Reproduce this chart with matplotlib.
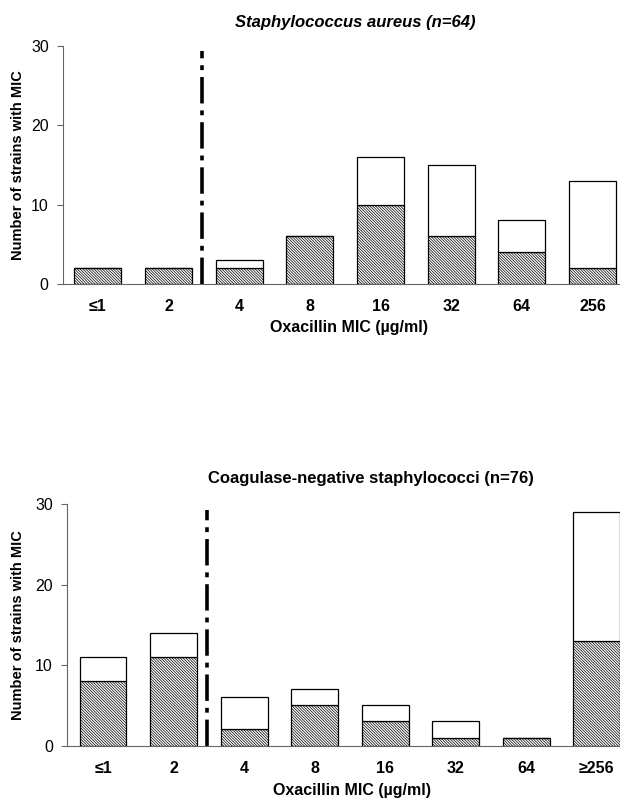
import matplotlib
matplotlib.use("Agg")
import matplotlib.pyplot as plt
import numpy as np

plt.rcParams['font.family'] = ['Liberation Sans', 'DejaVu Sans']
plt.rcParams['hatch.linewidth'] = 0.5
plt.rcParams['lines.scale_dashes'] = False

# Staphylococcus aureus
SA_LABELS = ['≤1', '2', '4', '8', '16', '32', '64', '256']
SA_HATCHED = [2, 2, 2, 6, 10, 6, 4, 2]
SA_TOTAL = [2, 2, 3, 6, 16, 15, 8, 13]

# coagulase-negative staphylococci
CNS_LABELS = ['≤1', '2', '4', '8', '16', '32', '64', '≥256']
CNS_HATCHED = [8, 11, 2, 5, 3, 1, 1, 13]
CNS_TOTAL = [11, 14, 6, 7, 5, 3, 1, 29]

Y_TICKS = [0, 10, 20, 30]
BREAKPOINT = 1.48


def draw_panel(ax, labels, hatched, total, xlim):
    # draws one stacked bar panel with the dash-dot breakpoint line
    x = np.arange(len(labels))
    hatched = np.array(hatched)
    white = np.array(total) - hatched
    ax.bar(x, hatched, width=0.665, color='white', edgecolor='black',
           linewidth=0.9, hatch='\\' * 12)
    ax.bar(x, white, width=0.665, bottom=hatched, color='white',
           edgecolor='black', linewidth=0.9)
    ax.plot([BREAKPOINT, BREAKPOINT], [0, 29.3], color='black', linewidth=2.6,
            linestyle=(0, (19, 5, 3.5, 5)))
    ax.set_xlim(xlim)
    ax.set_ylim(0, 30)
    ax.set_xticks(x)
    ax.set_xticklabels(labels, fontsize=11.5, fontweight='bold')
    ax.set_yticks(Y_TICKS)
    ax.tick_params(axis='x', length=0, pad=11)
    ax.tick_params(axis='y', length=4, width=0.8, color='#666666', pad=6, labelsize=11.5)
    ax.spines['top'].set_visible(False)
    ax.spines['right'].set_visible(False)
    ax.spines['left'].set_color('#666666')
    ax.spines['bottom'].set_color('#666666')
    ax.set_ylabel('Number of strains with MIC', fontsize=10.5, fontweight='bold')


def main():
    fig = plt.figure(figsize=(6.2, 8), dpi=100)

    ax1 = fig.add_axes([0.101, 0.645, 0.899, 0.298])
    draw_panel(ax1, SA_LABELS, SA_HATCHED, SA_TOTAL, (-0.5, 7.39))
    ax1.yaxis.set_label_coords(-0.068, 0.5)

    ax2 = fig.add_axes([0.1076, 0.068, 0.8924, 0.302])
    draw_panel(ax2, CNS_LABELS, CNS_HATCHED, CNS_TOTAL, (-0.515, 7.33))
    ax2.yaxis.set_label_coords(-0.075, 0.5)

    fig.text(355 / 620, 1 - 22 / 800, 'Staphylococcus aureus (n=64)', ha='center', va='center',
             fontsize=12, fontweight='bold', style='italic')
    fig.text(371 / 620, 1 - 478 / 800, 'Coagulase-negative staphylococci (n=76)', ha='center',
             va='center', fontsize=12, fontweight='bold')
    fig.text(349 / 620, 1 - 328 / 800, 'Oxacillin MIC (µg/ml)', ha='center', va='center',
             fontsize=11.5, fontweight='bold')
    fig.text(352 / 620, 1 - 790 / 800, 'Oxacillin MIC (µg/ml)', ha='center', va='center',
             fontsize=11.5, fontweight='bold')

    fig.savefig('out.png', dpi=100)


if __name__ == "__main__":
    main()
